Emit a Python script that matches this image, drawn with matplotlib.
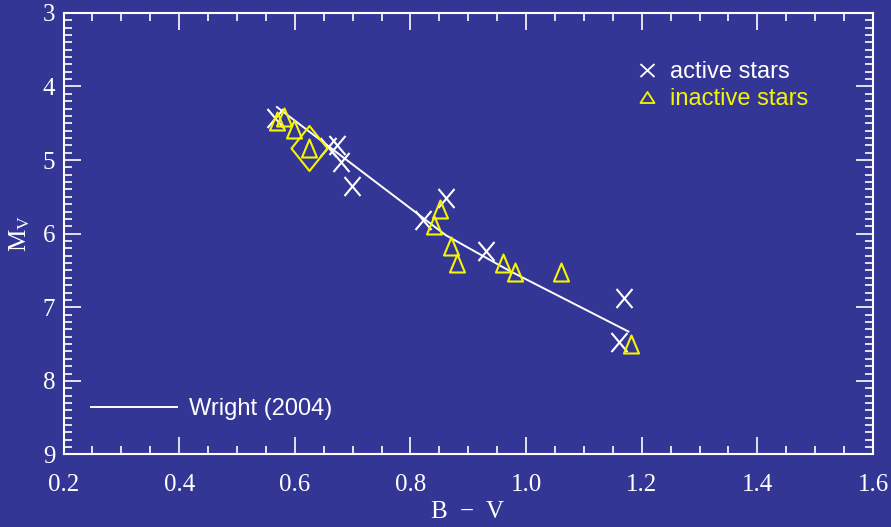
import matplotlib
matplotlib.use('Agg')
import matplotlib.pyplot as plt
from matplotlib.path import Path
from matplotlib.lines import Line2D
from matplotlib.ticker import MultipleLocator

# active stars (crosses)
active_bv = [0.566, 0.658, 0.673, 0.680, 0.699, 0.861, 0.821, 0.930, 1.170, 1.160]
active_mv = [4.43, 4.82, 4.80, 5.02, 5.35, 5.51, 5.82, 6.24, 6.88, 7.47]

# inactive stars (triangles)
inactive_bv = [0.570, 0.582, 0.599, 0.625, 0.851, 0.840, 0.870, 0.880, 0.960, 0.980, 1.060, 1.181]
inactive_mv = [4.47, 4.42, 4.58, 4.83, 5.66, 5.88, 6.17, 6.40, 6.40, 6.52, 6.52, 7.50]

# the one star marked with a diamond
diamond_bv = [0.625]
diamond_mv = [4.83]

# Wright (2004) main sequence
wright_bv = [0.569, 0.861, 0.970, 1.177]
wright_mv = [4.28, 6.02, 6.50, 7.33]

BG = '#343696'
YEL = '#f5f500'

plt.rcParams['font.family'] = ['Liberation Serif', 'DejaVu Serif']
plt.rcParams['mathtext.fontset'] = 'custom'
plt.rcParams['mathtext.rm'] = 'Liberation Serif'

# shapes in pixels (taller than wide, like the original)
cross = Path([(-8, -9.5), (8, 9.5), (-8, 9.5), (8, -9.5)],
             [Path.MOVETO, Path.LINETO, Path.MOVETO, Path.LINETO])
tri = Path([(-7.5, -9), (7.5, -9), (0, 9), (-7.5, -9)],
           [Path.MOVETO, Path.LINETO, Path.LINETO, Path.CLOSEPOLY])
diam = Path([(0, -22.5), (18, 0), (0, 22.5), (-18, 0), (0, -22.5)],
            [Path.MOVETO, Path.LINETO, Path.LINETO, Path.LINETO, Path.CLOSEPOLY])
cross_small = Path([(-7, -6.5), (7, 6.5), (-7, 6.5), (7, -6.5)],
                   [Path.MOVETO, Path.LINETO, Path.MOVETO, Path.LINETO])
tri_small = Path([(-7, -5.5), (7, -5.5), (0, 5.5), (-7, -5.5)],
                 [Path.MOVETO, Path.LINETO, Path.LINETO, Path.CLOSEPOLY])

px = 72 / 100  # points per pixel at dpi 100

fig = plt.figure(figsize=(8.91, 5.27), dpi=100, facecolor=BG)
ax = fig.add_axes([0.0713, 0.1376, 0.9798 - 0.0713, 0.9757 - 0.1376])
ax.set_facecolor(BG)

ax.plot(wright_bv, wright_mv, color='white', lw=1.4)
ax.plot(active_bv, active_mv, ls='none', marker=cross, ms=19 * px,
        mec='white', mew=1.5)
ax.plot(inactive_bv, inactive_mv, ls='none', marker=tri, ms=18 * px,
        mfc='none', mec=YEL, mew=1.5)
ax.plot(diamond_bv, diamond_mv, ls='none', marker=diam, ms=45 * px,
        mfc='none', mec=YEL, mew=1.5)

ax.set_xlim(0.2, 1.6)
ax.set_ylim(9, 3)
ax.xaxis.set_major_locator(MultipleLocator(0.2))
ax.xaxis.set_minor_locator(MultipleLocator(0.05))
ax.yaxis.set_major_locator(MultipleLocator(1))
ax.yaxis.set_minor_locator(MultipleLocator(0.1))
ax.xaxis.set_major_formatter(matplotlib.ticker.FormatStrFormatter('%.1f'))

for s in ax.spines.values():
    s.set_color('white')
    s.set_linewidth(1.5)
ax.tick_params(which='both', direction='in', top=True, right=True,
               colors='white', width=1.2, labelsize=18)
ax.tick_params(which='major', length=12)
ax.tick_params(which='minor', length=6)
ax.tick_params(axis='x', pad=14)
ax.tick_params(axis='y', pad=6)

ax.set_xlabel('B  $-$  V', color='white', fontsize=18, labelpad=4)
ax.set_ylabel(r'$\mathregular{M_V}$', color='white', fontsize=18, labelpad=8)

h1 = [Line2D([], [], ls='none', marker=cross_small, ms=14 * px, mec='white', mew=1.3),
      Line2D([], [], ls='none', marker=tri_small, ms=14 * px, mfc='none', mec=YEL, mew=1.3)]
leg1 = ax.legend(h1, ['active stars', 'inactive stars'], loc='center left',
                 bbox_to_anchor=(635 / 891, 1 - 85.5 / 527),
                 bbox_transform=fig.transFigure, frameon=False,
                 prop={'family': 'Liberation Sans', 'size': 17},
                 labelcolor=['white', YEL], handlelength=1.0,
                 handletextpad=0.5, labelspacing=0.22, borderpad=0,
                 borderaxespad=0)
ax.add_artist(leg1)

h2 = [Line2D([], [], color='white', lw=1.4)]
ax.legend(h2, ['Wright (2004)'], loc='center left',
          bbox_to_anchor=(90.7 / 891, 1 - 409.3 / 527),
          bbox_transform=fig.transFigure, frameon=False,
          prop={'family': 'Liberation Sans', 'size': 17},
          labelcolor='white', handlelength=3.67, handletextpad=0.5,
          borderpad=0, borderaxespad=0)

fig.savefig('out.png', dpi=100, facecolor=BG)
